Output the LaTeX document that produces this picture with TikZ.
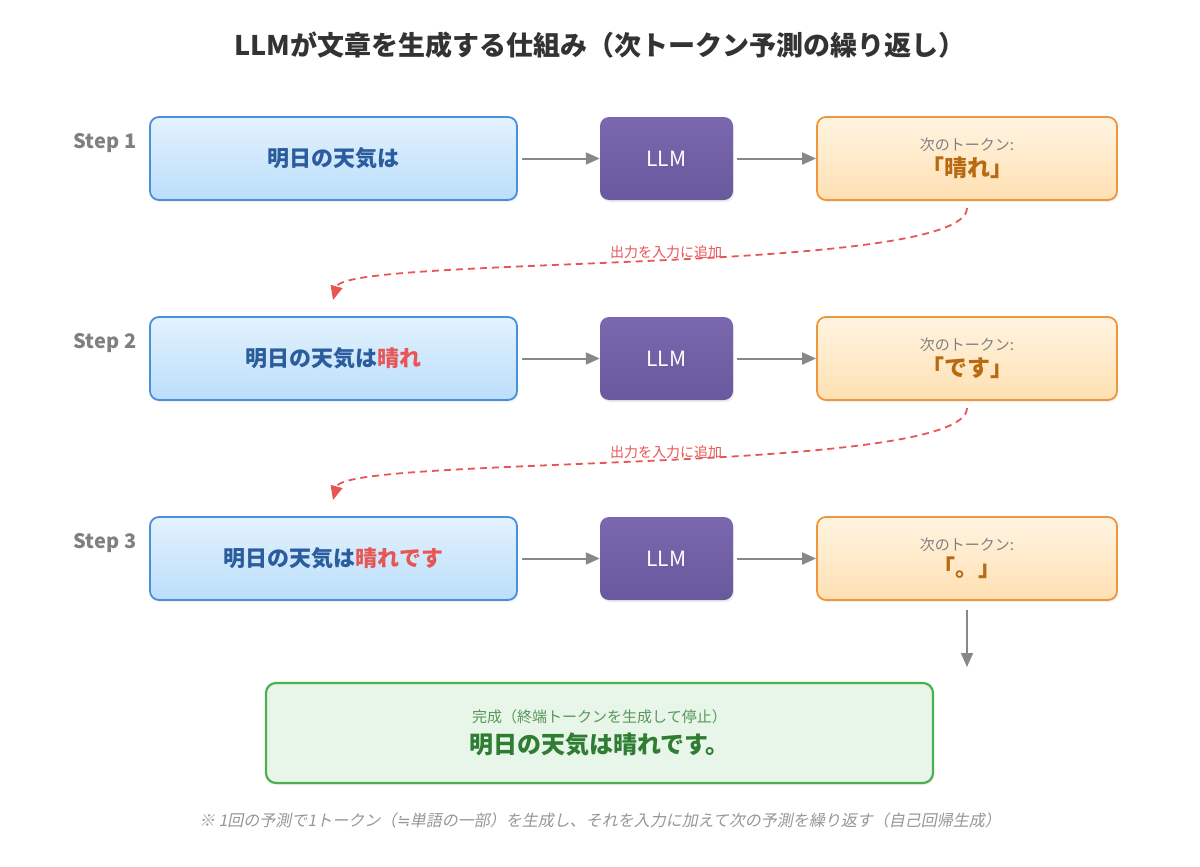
\documentclass[tikz,border=0pt]{standalone}
\usepackage{fontspec}
\setmainfont{Noto Sans CJK JP}
\newfontfamily\notefont[FakeSlant=0.2]{Noto Sans CJK JP}
\newfontfamily\symfont[FakeSlant=0.2]{DejaVu Sans}
\usetikzlibrary{arrows.meta,shadows}
\definecolor{bluebd}{HTML}{4A90D9}
\definecolor{bluetx}{HTML}{2B5C9E}
\definecolor{redtx}{HTML}{E85555}
\definecolor{orbd}{HTML}{F0963C}
\definecolor{ortx}{HTML}{B86A10}
\definecolor{grbd}{HTML}{4CAF50}
\definecolor{grtx}{HTML}{2E7D32}
\definecolor{arr}{HTML}{888888}
\begin{document}
\begin{tikzpicture}[x=1pt,y=-1pt,
  inbox/.style={draw=bluebd,line width=1.8pt,rounded corners=9pt,top color={rgb,255:red,227;green,242;blue,253},bottom color={rgb,255:red,187;green,222;blue,251},minimum width=367pt,minimum height=83pt,align=center,font=\bfseries\fontsize{22}{26}\selectfont,drop shadow={opacity=0.12,shadow xshift=1pt,shadow yshift=-2pt}},
  llmbox/.style={draw=none,rounded corners=9pt,top color={rgb,255:red,123;green,104;blue,176},bottom color={rgb,255:red,104;green,88;blue,156},minimum width=133pt,minimum height=83pt,text=white,font=\fontsize{21}{24}\selectfont,drop shadow={opacity=0.15,shadow xshift=1pt,shadow yshift=-2pt}},
  outbox/.style={draw=orbd,line width=1.8pt,rounded corners=9pt,top color={rgb,255:red,255;green,244;blue,226},bottom color={rgb,255:red,255;green,224;blue,178},minimum width=300pt,minimum height=83pt,align=center,drop shadow={opacity=0.12,shadow xshift=1pt,shadow yshift=-2pt}},
  steplbl/.style={text=gray,font=\bfseries\fontsize{20}{23}\selectfont},
  garrow/.style={draw=arr,line width=2pt,-{Triangle[length=14pt,width=12pt]}},
  loopback/.style={draw=redtx,line width=1.8pt,dash pattern=on 7pt off 5pt,-{Triangle[length=14pt,width=12pt]}},
  looplbl/.style={text=redtx,font=\fontsize{14}{16}\selectfont}
]
\useasboundingbox (0,0) rectangle (1200,867);
\node[font=\bfseries\fontsize{27}{32}\selectfont,text={rgb,255:red,51;green,51;blue,51}] (title) at (600,45) {LLMが文章を生成する仕組み（次トークン予測の繰り返し）};
\foreach \i/\y in {1/158.5,2/358.5,3/558.5}{
  \node[steplbl] (s\i) at (105,143+\y-158.5) {Step \i};
  \node[llmbox] (l\i) at (666.5,\y) {LLM};
}
\node[inbox] (i1) at (333.5,158.5) {\textcolor{bluetx}{明日の天気は}};
\node[inbox] (i2) at (333.5,358.5) {\textcolor{bluetx}{明日の天気は}\textcolor{redtx}{晴れ}};
\node[inbox] (i3) at (333.5,558.5) {\textcolor{bluetx}{明日の天気は}\textcolor{redtx}{晴れです}};
\node[outbox] (o1) at (967,158.5) {\textcolor{gray}{\fontsize{15}{17}\selectfont 次のトークン:}\\[4pt]\textcolor{ortx}{\bfseries\fontsize{23}{27}\selectfont 「晴れ」}};
\node[outbox] (o2) at (967,358.5) {\textcolor{gray}{\fontsize{15}{17}\selectfont 次のトークン:}\\[4pt]\textcolor{ortx}{\bfseries\fontsize{23}{27}\selectfont 「です」}};
\node[outbox] (o3) at (967,558.5) {\textcolor{gray}{\fontsize{15}{17}\selectfont 次のトークン:}\\[4pt]\textcolor{ortx}{\bfseries\fontsize{23}{27}\selectfont 「。」}};
\foreach \i in {1,2,3}{
  \draw[garrow] (i\i.east) ++(4,0) -- (l\i.west);
  \draw[garrow] (l\i.east) ++(4,0) -- (o\i.west);
}
\coordinate (c1a) at (967,208); \coordinate (c1b) at (333,300);
\coordinate (c2a) at (967,408); \coordinate (c2b) at (333,500);
\draw[loopback] (c1a) .. controls (967,275) and (345,255) .. (c1b);
\draw[loopback] (c2a) .. controls (967,475) and (345,455) .. (c2b);
\node[looplbl] (lb1) at (666,252) {出力を入力に追加};
\node[looplbl] (lb2) at (666,452) {出力を入力に追加};
\node[draw=grbd,line width=2.2pt,rounded corners=10pt,fill={rgb,255:red,232;green,245;blue,233},minimum width=667pt,minimum height=100pt,align=center,drop shadow={opacity=0.12,shadow xshift=1pt,shadow yshift=-2pt}] (fin) at (599.5,733)
  {\textcolor{grtx!80!white}{\fontsize{15}{17}\selectfont 完成（終端トークンを生成して停止）}\\[8pt]\textcolor{grtx}{\bfseries\fontsize{24}{28}\selectfont 明日の天気は晴れです。}};
\coordinate (dtop) at (967,610);
\draw[garrow] (dtop) -- (967,667);
\node[text={rgb,255:red,150;green,150;blue,150},font=\notefont\fontsize{16}{19}\selectfont] (note) at (600,820) {※ 1回の予測で1トークン（{\symfont ≒}単語の一部）を生成し、それを入力に加えて次の予測を繰り返す（自己回帰生成）};
\end{tikzpicture}
\end{document}
